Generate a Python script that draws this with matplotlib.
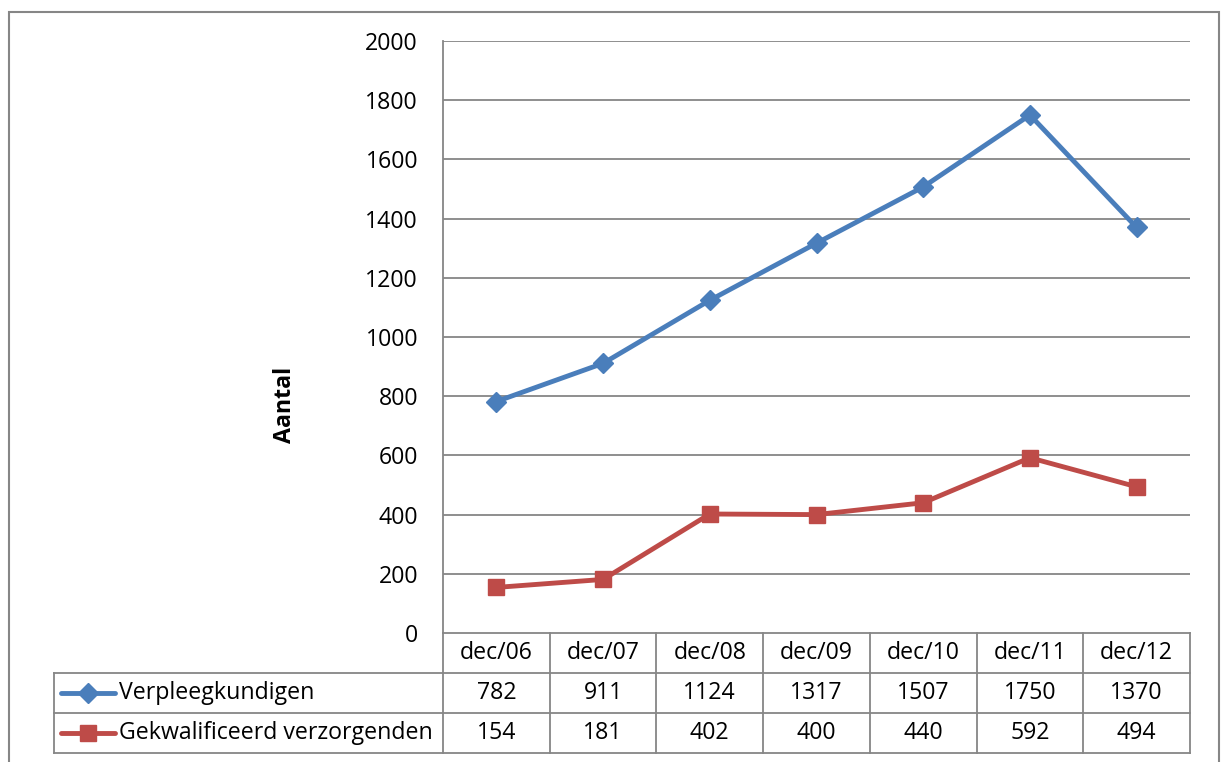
import matplotlib.pyplot as plt
from matplotlib.patches import Rectangle
from matplotlib.lines import Line2D

plt.rcParams['font.family'] = ['Open Sans', 'DejaVu Sans']

categories = ['dec/06', 'dec/07', 'dec/08', 'dec/09', 'dec/10', 'dec/11', 'dec/12']
verpleeg = [782, 911, 1124, 1317, 1507, 1750, 1370]
gekwal = [154, 181, 402, 400, 440, 592, 494]
series_names = ['Verpleegkundigen', 'Gekwalificeerd verzorgenden']
yticks = [0, 200, 400, 600, 800, 1000, 1200, 1400, 1600, 1800, 2000]

blue = '#4a7ebb'
red = '#be4b48'
grid = '#868686'
fs = 16.7

W, H = 1222, 762
fig = plt.figure(figsize=(W / 100, H / 100), dpi=100)

# pixel helpers (top-left origin)
def fx(px):
    return px / W

def fy(py):
    return 1 - py / H

left, right, top, bottom = 443, 1190, 41, 633
ax = fig.add_axes([fx(left), fy(bottom), fx(right) - fx(left), fy(top) - fy(bottom)])

x = list(range(len(categories)))
ax.plot(x, verpleeg, color=blue, lw=3.5, marker='D', ms=10, mfc=blue, mec=blue, solid_joinstyle='round')
ax.plot(x, gekwal, color=red, lw=3.5, marker='s', ms=12, mfc=red, mec=red, solid_joinstyle='round')

ax.set_xlim(-0.5, len(categories) - 0.5)
ax.set_ylim(0, 2000)
ax.set_yticks(yticks)
ax.set_yticklabels([str(v) for v in yticks], fontsize=fs)
ax.tick_params(axis='y', length=0, pad=18)
ax.set_xticks([])
for v in yticks[1:]:
    ax.axhline(v, color=grid, lw=1.3, zorder=0)
for s in ['top', 'right']:
    ax.spines[s].set_visible(False)
ax.spines['left'].set_color(grid)
ax.spines['bottom'].set_color(grid)
ax.spines['left'].set_linewidth(1.3)
ax.spines['bottom'].set_linewidth(1.3)

fig.text(fx(285), fy(405), 'Aantal', rotation=90, fontsize=fs, fontweight='bold',
         ha='center', va='center')

# data table
col_w = (right - left) / len(categories)
row_y = [633, 673, 713, 753]
legend_left = 54
lkw = dict(color=grid, lw=1.3, transform=fig.transFigure)

def hline(x0, x1, y):
    fig.add_artist(Line2D([fx(x0), fx(x1)], [fy(y), fy(y)], **lkw))

def vline(xp, y0, y1):
    fig.add_artist(Line2D([fx(xp), fx(xp)], [fy(y0), fy(y1)], **lkw))

hline(legend_left, right, row_y[1])
hline(legend_left, right, row_y[2])
hline(legend_left, right, row_y[3])
vline(legend_left, row_y[1], row_y[3])
vline(left, row_y[0], row_y[3])
for i in range(1, len(categories) + 1):
    vline(left + i * col_w, row_y[0], row_y[3])

for i, cat in enumerate(categories):
    cx = left + (i + 0.5) * col_w
    fig.text(fx(cx), fy((row_y[0] + row_y[1]) / 2), cat, ha='center', va='center', fontsize=fs)
    fig.text(fx(cx), fy((row_y[1] + row_y[2]) / 2), str(verpleeg[i]), ha='center', va='center', fontsize=fs)
    fig.text(fx(cx), fy((row_y[2] + row_y[3]) / 2), str(gekwal[i]), ha='center', va='center', fontsize=fs)

for r, (name, col, mk, ms) in enumerate(zip(series_names, [blue, red], ['D', 's'], [10, 12])):
    yc = (row_y[r + 1] + row_y[r + 2]) / 2
    fig.add_artist(Line2D([fx(61), fx(115)], [fy(yc), fy(yc)], color=col, lw=3.5,
                          transform=fig.transFigure, solid_capstyle='round'))
    fig.add_artist(Line2D([fx(88)], [fy(yc)], marker=mk, ms=ms, color=col,
                          transform=fig.transFigure))
    fig.text(fx(119), fy(yc), name, ha='left', va='center', fontsize=fs)

# outer chart border
fig.add_artist(Rectangle((fx(9), fy(775)), fx(1219) - fx(9), fy(12) - fy(775),
                         fill=False, edgecolor=grid, lw=1.5, transform=fig.transFigure))

fig.savefig('out.png', dpi=100)
